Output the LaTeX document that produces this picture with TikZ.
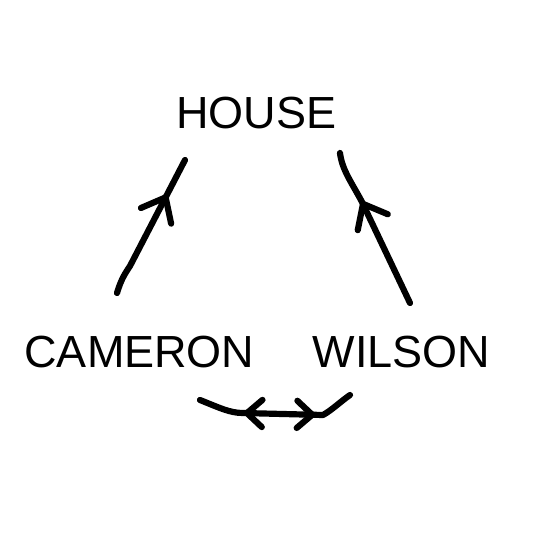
\documentclass[tikz,border=0pt]{standalone}
\usepackage{fontspec}
\setmainfont{Liberation Sans}
\usetikzlibrary{arrows.meta, decorations.markings}
\tikzset{
  pen/.tip={Straight Barb[length=0.52cm, width=0.85cm, round]},
  penlow/.tip={Straight Barb[length=0.38cm, width=0.68cm, round]}
}

\begin{document}
\begin{tikzpicture}[x=0.025cm, y=-0.025cm,
  person/.style={font=\fontsize{32}{38}\selectfont, anchor=base, inner sep=0pt},
  stroke/.style={line width=4.4pt, line cap=round, line join=round},
  arrowat/.style={postaction={decorate},
    decoration={markings, mark=at position #1 with {\arrow{pen}}}},
  bothat/.style 2 args={postaction={decorate},
    decoration={markings, mark=at position #1 with {\arrowreversed{penlow}},
      mark=at position #2 with {\arrow{penlow}}}}
]
\useasboundingbox (0,0) rectangle (540,540);

\node[person] (house) at (256.5,128) {HOUSE};
\node[person] (cameron) at (139.5,367) {CAMERON};
\node[person] (wilson) at (401.5,367) {WILSON};

% free ends of the hand drawn strokes
\coordinate (cam-up) at (117,293);
\coordinate (hou-left) at (185,160);
\coordinate (wil-up) at (410,303);
\coordinate (hou-right) at (340,153);
\coordinate (cam-low) at (200,400);
\coordinate (wil-low) at (350,395);

\draw[stroke, arrowat=0.74] (cam-up) .. controls (121,280) and (124,275) .. (130,266) -- (hou-left);
\draw[stroke, arrowat=0.68] (wil-up) -- (362,202) .. controls (352,183) and (342,170) .. (hou-right);
\draw[stroke, bothat={0.29}{0.74}] (cam-low) .. controls (220,408) and (230,413) .. (243,413)
  -- (323,415) .. controls (332,410) and (340,402) .. (wil-low);
\end{tikzpicture}
\end{document}
